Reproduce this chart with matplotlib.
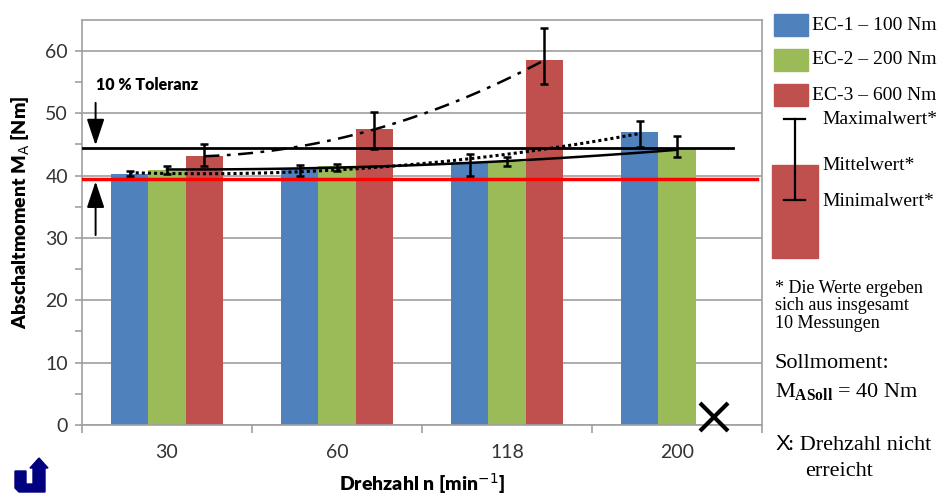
import numpy as np
import matplotlib
matplotlib.use('Agg')
import matplotlib.pyplot as plt
from matplotlib.patches import Rectangle, Polygon
from matplotlib.lines import Line2D

# data
drehzahl = ['30', '60', '118', '200']
ec1_mean = [40.3, 41.1, 42.2, 46.9]
ec1_min = [40.0, 40.0, 39.9, 44.6]
ec1_max = [40.8, 41.7, 43.5, 48.7]
ec2_mean = [40.9, 41.5, 42.1, 44.2]
ec2_min = [40.2, 40.8, 41.5, 42.9]
ec2_max = [41.6, 41.8, 43.0, 46.3]
ec3_mean = [43.1, 47.4, 58.5]          # 200 min-1 not reached
ec3_min = [41.6, 44.3, 54.7]
ec3_max = [45.0, 50.2, 63.6]
soll_line = 39.5
tol_line = 44.4
series_names = ['EC-1 \u2013 100 Nm', 'EC-2 \u2013 200 Nm', 'EC-3 \u2013 600 Nm']
colors = ['#4F81BD', '#9BBB59', '#C0504D']

plt.rcParams['font.family'] = ['Lato', 'DejaVu Sans']
plt.rcParams['mathtext.fontset'] = 'custom'
plt.rcParams['mathtext.rm'] = 'Liberation Serif'
plt.rcParams['mathtext.bf'] = 'Liberation Serif:bold'

W, H = 952, 495
fig = plt.figure(figsize=(W / 100, H / 100), dpi=100)

def px(x, y):
    return x / W, 1 - y / H

ax = fig.add_axes([82 / W, 1 - 425 / H, 680 / W, 405.4 / H])

idx = np.arange(len(drehzahl))
bw = 0.22
means = [ec1_mean, ec2_mean, ec3_mean]
mins = [ec1_min, ec2_min, ec3_min]
maxs = [ec1_max, ec2_max, ec3_max]
trend_styles = [dict(ls=(0, (1, 1)), lw=2.2), dict(ls='-', lw=1.8),
                dict(ls=(0, (6, 3, 1.5, 3)), lw=1.8)]

for k in range(3):
    n = len(means[k])
    xs = idx[:n] + (k - 1) * bw
    m = np.array(means[k])
    ax.bar(xs, m, width=bw, color=colors[k], zorder=2)
    err = [m - np.array(mins[k]), np.array(maxs[k]) - m]
    ax.errorbar(xs, m, yerr=err, fmt='none', ecolor='black', elinewidth=1.8,
                capsize=3.2, capthick=1.8, zorder=5)
    # polynomial trend line (order 2)
    c = np.polyfit(xs, m, 2)
    xx = np.linspace(xs[0], xs[-1], 100)
    ax.plot(xx, np.polyval(c, xx), color='black', zorder=4, **trend_styles[k])

ax.set_xlim(-0.5, 3.5)
ax.set_ylim(0, 65)
ax.set_yticks(np.arange(0, 61, 10))
ax.set_yticks(np.arange(5, 61, 10), minor=True)
ax.set_xticks(idx)
ax.set_xticklabels(drehzahl)
ax.set_xticks(np.arange(-0.5, 3.6, 1), minor=True)
ax.tick_params(axis='x', which='major', length=0, pad=14, labelsize=14, labelcolor='#333333')
ax.tick_params(axis='x', which='minor', length=6, color='#A0A0A0', width=1.2)
ax.tick_params(axis='y', which='both', length=5, color='#A0A0A0', width=1.2,
               labelsize=14, labelcolor='#333333', pad=5)
ax.yaxis.grid(True, which='major', color='#A6A6A6', lw=1.3, zorder=0)
ax.set_axisbelow(True)
for s in ax.spines.values():
    s.set_color('#A0A0A0')
    s.set_linewidth(1.2)

ax.set_ylabel('Abschaltmoment M$_\\mathsf{A}$ [Nm]', fontsize=14, fontweight='heavy',
              va='center')
ax.yaxis.set_label_coords(-0.09, 0.525)
ax.set_xlabel('Drehzahl n [min$^{\\mathsf{-1}}$]', fontsize=14, fontweight='heavy',
              va='center')
ax.xaxis.set_label_coords(0.5, -0.145)

# tolerance lines
ax.plot([-0.5, 3.33], [tol_line, tol_line], color='black', lw=2, zorder=3)
ax.plot([-0.5, 3.47], [soll_line, soll_line], color='#FF0000', lw=2.5, zorder=3)
arrow = dict(arrowstyle='-|>,head_length=0.9,head_width=0.3', color='black', lw=1.4,
             mutation_scale=18)
ax.annotate('', xy=(-0.42, tol_line), xytext=(-0.42, 52.1), arrowprops=arrow, zorder=6)
ax.annotate('', xy=(-0.42, soll_line), xytext=(-0.42, 30), arrowprops=arrow, zorder=6)
ax.text(-0.42, 54.5, '10 % Toleranz', fontsize=11.5, fontweight='heavy', va='center', ha='left')

# not reached marker
ax.plot([idx[3] + bw], [1.3], marker='x', color='black', markersize=20, mew=3,
        clip_on=False, zorder=6)

# legend (drawn by hand)
serif = 'Liberation Serif'
leg_y = [25, 60, 95]
for k in range(3):
    fig.patches.append(Rectangle(px(774, leg_y[k] + 11), 34 / W, 22 / H, color=colors[k],
                                 transform=fig.transFigure))
    fig.text(*px(812, leg_y[k]), series_names[k], family=serif, fontsize=14, va='center')

fig.patches.append(Rectangle(px(772, 258), 46 / W, 93 / H, color=colors[2],
                             transform=fig.transFigure))
lw_sym = 1.6
fig.lines.append(Line2D([784 / W, 805 / W], [1 - 119 / H] * 2, color='black', lw=lw_sym,
                        transform=fig.transFigure))
fig.lines.append(Line2D([784 / W, 805 / W], [1 - 200 / H] * 2, color='black', lw=lw_sym,
                        transform=fig.transFigure))
fig.lines.append(Line2D([794.5 / W] * 2, [1 - 119 / H, 1 - 200 / H], color='black', lw=lw_sym,
                        transform=fig.transFigure))
fig.text(*px(822, 119), 'Maximalwert*', family=serif, fontsize=14, va='center')
fig.text(*px(822, 166), 'Mittelwert*', family=serif, fontsize=14, va='center')
fig.text(*px(822, 201), 'Minimalwert*', family=serif, fontsize=14, va='center')

fig.text(*px(775, 306), '* Die Werte ergeben\nsich aus insgesamt\n10 Messungen',
         family=serif, fontsize=13, va='center', linespacing=1.05)
fig.text(*px(775, 363), 'Sollmoment:', family=serif, fontsize=16, va='center')
fig.text(*px(775, 392), 'M$_{\\mathbf{ASoll}}$ = 40 Nm', family=serif, fontsize=16, va='center')
fig.text(*px(775, 445), 'X', family='Liberation Sans', fontsize=16, va='center')
fig.text(*px(788, 445), ': Drehzahl nicht', family=serif, fontsize=16, va='center')
fig.text(*px(805, 472), 'erreicht', family=serif, fontsize=16, va='center')

# university logo (rough shape)
logo_col = '#000080'
logo = [(15, 471), (26, 471), (26, 484), (33, 484), (33, 468), (30, 468), (39, 458),
        (48, 468), (45, 468), (45, 492), (19, 492), (15, 488)]
fig.patches.append(Polygon([px(x, y) for x, y in logo], closed=True, color=logo_col,
                           transform=fig.transFigure))

fig.savefig('out.png', dpi=100)
